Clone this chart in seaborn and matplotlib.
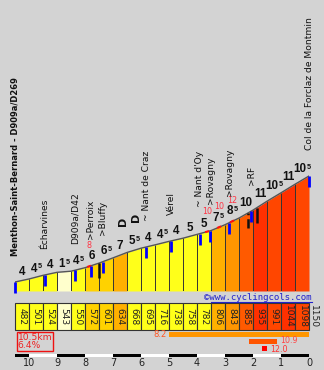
import numpy as np
import pandas as pd
import matplotlib
matplotlib.use("Agg")
import matplotlib.pyplot as plt
from matplotlib.lines import Line2D
import seaborn as sns

# ---------------- data ----------------
gradients = [4, 4.5, 4, 1.5, 4.5, 6, 6.5, 7, 5.5, 4, 4.5, 4, 5, 5, 7.5, 8.5, 10, 11, 10.5, 11, 10.5]
elevations = [482, 501, 524, 543, 550, 572, 601, 634, 668, 695, 716, 738, 758, 782, 806, 843,
              885, 935, 991, 1044, 1098, 1150]
segment_km = 0.5
total_km = 10.5
avg_grad = 6.4

place_km = [0.0, 1.07, 2.14, 2.71, 3.14, 4.68, 5.57, 6.6, 6.97, 7.66, 8.43, 10.5]
place_names = ["Menthon-Saint-Bernard - D909a/D269", "Écharvines", "D909a/D42", ">Perroix",
               ">Bluffy", "~ Nant de Craz", "Vérel", "~ Nant d'Oy", ">Rovagny", ">Rovagny",
               ">RF", "Col de la Forclaz de Montmin"]
tunnel_km = [3.86, 4.32]
black_km = [3.0, 8.32, 8.64]
steep_km = [2.65, 6.86, 7.29, 7.75]
steep_labels = ["8", "10", "10", "12"]

stat_from = [5.0, 2.14, 1.68]   # km to summit
stat_to = [0.0, 1.14, 1.50]
stat_values = [8.2, 10.9, 12.0]
km_ticks = list(range(10, -1, -1))

# ---------------- style ----------------
BG = "#D3D3D3"
W, H = 324, 370


def grad_color(g):
    if g < 3:
        return "#FFFFCC"
    if g < 6:
        return "#FFFF1A"
    if g < 7:
        return "#FFD200"
    if g < 8:
        return "#FFB000"
    if g < 9:
        return "#FF9600"
    if g < 10.25:
        return "#FF5A00"
    if g < 10.75:
        return "#FF4600"
    if g < 11.5:
        return "#FF3000"
    return "#FF0000"


fig = plt.figure(figsize=(W / 100, H / 100), dpi=100, facecolor=BG)


def ax_at(x0, y0, x1, y1):
    a = fig.add_axes([x0 / W, 1 - y1 / H, (x1 - x0) / W, (y1 - y0) / H])
    a.set_facecolor("none")
    a.axis("off")
    return a


# ---------------- profile ----------------
dist = np.arange(len(elevations)) * segment_km
ax = ax_at(15, 0, 309, 291)
px_per_m = 106 / (elevations[-1] - elevations[0])
ybot = elevations[0] - 9 / px_per_m
ytop = elevations[0] + 282 / px_per_m
ax.set_xlim(0, total_km)
ax.set_ylim(ybot, ytop)

for i, g in enumerate(gradients):
    ax.fill_between(dist[i:i + 2], elevations[i:i + 2], ybot, color=grad_color(g), lw=0)
ax.vlines(dist, ybot, elevations, color="#333333", lw=0.7)
sns.lineplot(x=dist, y=elevations, ax=ax, color="#555555", lw=1.0, legend=False)


def elev_at(k):
    return float(np.interp(k, dist, elevations))


# steep short sections (red)
for k, lab in zip(steep_km, steep_labels):
    xs = np.linspace(k - 0.07, k + 0.07, 5)
    ax.plot(xs, [elev_at(x) for x in xs], color="#FF1010", lw=1.5, solid_capstyle="butt")
    ax.annotate(lab, (k, elev_at(k)), xytext=(0, 14.8), textcoords="offset points",
                ha="center", va="center", fontsize=5.8, color="#FF3344")

# blue place markers
mlen = 11 / px_per_m
for k in place_km:
    e = elev_at(k)
    ax.vlines(k, e - mlen, e, color="#0000FF", lw=2, clip_on=False)

# black markers
blen = 15 / px_per_m
for j, k in enumerate(black_km):
    e = elev_at(k)
    ax.vlines(k, e - blen, e, color="#111111", lw=1.8,
              linestyles="--" if j == 1 else "-", clip_on=False)

# gradient labels (integer part bold + small superscript 5 for halves)
GFONT = "Liberation Sans"
FS_MAIN, FS_SUP = 8.4, 5.2
for i, g in enumerate(gradients):
    xm = (dist[i] + dist[i + 1]) / 2
    ye = elevations[i + 1]
    main = str(int(g))
    if g == int(g):
        ax.annotate(main, (xm, ye), xytext=(0, 0.6), textcoords="offset points",
                    ha="center", va="bottom", fontsize=FS_MAIN, fontweight="bold",
                    family=GFONT, color="#111111")
    else:
        wm = 0.556 * FS_MAIN * len(main)
        ws = 0.556 * FS_SUP
        d = (wm - ws) / 2
        ax.annotate(main, (xm, ye), xytext=(d, 0.6), textcoords="offset points",
                    ha="right", va="bottom", fontsize=FS_MAIN, fontweight="bold",
                    family=GFONT, color="#111111")
        ax.annotate("5", (xm, ye), xytext=(d + 0.3, 3.7), textcoords="offset points",
                    ha="left", va="bottom", fontsize=FS_SUP, fontweight="bold",
                    family=GFONT, color="#111111")

# place names
for k, name in zip(place_km, place_names):
    bold = name.startswith("Menthon")
    ax.annotate(name, (k, elev_at(k)), xytext=(0, 19), textcoords="offset points",
                rotation=90, ha="center", va="bottom", fontsize=6.0 if bold else 6.6,
                fontweight="bold" if bold else "normal", color="#111111",
                annotation_clip=False)

# tunnels
for k in tunnel_km:
    ax.annotate("D", (k, elev_at(k)), xytext=(0, 20), textcoords="offset points",
                rotation=90, ha="center", va="bottom", fontsize=8, fontweight="bold",
                color="#111111")

# ---------------- table of elevations ----------------
ax_tab = ax_at(15, 303, 309, 330)
tab = pd.DataFrame({"seg": [str(i) for i in range(len(gradients))],
                    "h": [1] * len(gradients),
                    "elev": elevations[:-1]})
pal = {str(i): grad_color(g) for i, g in enumerate(gradients)}
sns.barplot(data=tab, x="seg", y="h", hue="seg", palette=pal, width=1, saturation=1,
            edgecolor="#333333", linewidth=0.8, legend=False, ax=ax_tab)
for p in ax_tab.patches:
    p.set_clip_on(False)
ax_tab.set_xlim(-0.5, len(gradients) - 0.5)
ax_tab.set_ylim(0, 1)
ax_tab.axis("off")
for i, e in enumerate(elevations[:-1]):
    ax_tab.text(i, 0.5, str(e), rotation=270, ha="center", va="center", fontsize=6.5,
                color="#222222")
ax_tab.annotate(str(elevations[-1]), (len(gradients) - 0.5, 0.5), xytext=(3.2, 0),
                textcoords="offset points", rotation=270, ha="center", va="center",
                fontsize=6.6, color="#222222", annotation_clip=False)

# ---------------- bottom: stats + distance bar ----------------
ax_b = ax_at(15, 331, 309, 370)
ax_b.set_xlim(total_km, 0)
ax_b.set_ylim(370, 331)

stat_rows = [334.5, 341.5, 348.5]
stat_nudge = [0, 0.6, -0.6]
stat_cols = ["#FF9600", "#FF5500", "#FF0000"]
lab_cols = ["#FF5522", "#FF4444", "#FF3333"]
for j, (f, t, v) in enumerate(zip(stat_from, stat_to, stat_values)):
    ax_b.barh(stat_rows[j], f - t, left=t, height=5, color=stat_cols[j], lw=0)
    if j == 0:
        ax_b.annotate(f"{v:.1f}", (f, stat_rows[j]), xytext=(-2, 0), textcoords="offset points",
                      ha="right", va="center", fontsize=6.0, color=lab_cols[j])
    else:
        ax_b.annotate(f"{v:.1f}", (t, stat_rows[j]), xytext=(2, stat_nudge[j]),
                      textcoords="offset points", ha="left", va="center", fontsize=5.7,
                      color=lab_cols[j])

bounds = [total_km] + [float(k) for k in km_ticks]
for j in range(len(bounds) - 1):
    a, b = bounds[j], bounds[j + 1]
    ax_b.barh(355.5, a - b, left=b, height=3, color="#000000" if j % 2 == 0 else "#FFFFFF", lw=0)
for k in km_ticks:
    ax_b.text(k, 362.5, str(k), ha="center", va="center", fontsize=7, color="#222222")

ax_b.annotate(f"{total_km}km\n{avg_grad}%", (total_km, 341.8), xytext=(2.0, 0),
              textcoords="offset points", ha="left", va="center", fontsize=6.6,
              color="#EE2222", linespacing=0.9,
              bbox=dict(boxstyle="square,pad=0.1", fc="none", ec="#EE1111", lw=1))

# ---------------- copyright ----------------
ct = fig.text(312 / W, 1 - 297.5 / H, "©www.cyclingcols.com", ha="right", va="center",
              fontsize=6.5, family="DejaVu Sans Mono", color="#2222CC")
fig.canvas.draw()
bb = ct.get_window_extent()
fig.add_artist(Line2D([bb.x0 / W + 6 / W, bb.x1 / W], [1 - 301.5 / H, 1 - 301.5 / H],
                      color="#2222CC", lw=0.8))

fig.savefig("out.png", dpi=100, facecolor=BG)
